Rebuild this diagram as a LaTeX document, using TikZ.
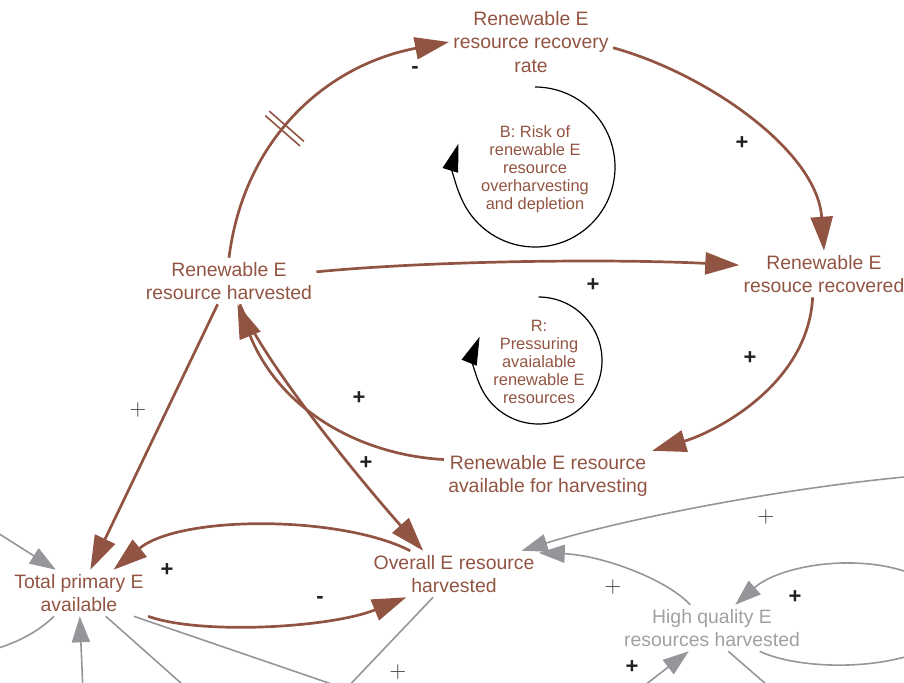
\documentclass[tikz,border=0pt]{standalone}
\usepackage{fontspec}
\setmainfont{Liberation Sans}
\usetikzlibrary{arrows.meta,decorations.markings}

\definecolor{brn}{RGB}{146,84,66}
\definecolor{gry}{RGB}{148,150,153}
\definecolor{grytxt}{RGB}{158,160,163}
\definecolor{sgn}{RGB}{35,31,32}

\begin{document}
\begin{tikzpicture}[x=0.5pt,y=0.5pt,
  var/.style={align=center,inner sep=2pt,text=brn,font=\fontsize{9.7}{11.75}\selectfont},
  greyvar/.style={var,text=grytxt},
  looplabel/.style={align=center,inner sep=0pt,text=brn,font=\fontsize{8.2}{9}\selectfont},
  link/.style={draw=brn,line width=1.35pt,-{Triangle[length=17pt,width=11pt]}},
  greylink/.style={draw=gry,line width=0.8pt,-{Triangle[length=13pt,width=9pt]}},
  greyline/.style={draw=gry,line width=0.8pt},
  loopline/.style={draw=black,line width=0.6pt,-{Triangle[length=14pt,width=8pt]}},
  possign/.style={text=sgn,inner sep=0pt,font=\fontsize{11}{11}\selectfont\bfseries},
  thinsign/.style={text=black!75,inner sep=0pt,font=\fontsize{10.5}{10.5}\selectfont},
  delaymark/.style={postaction={decorate},decoration={markings,mark=at position #1 with
    {\draw[brn,line width=0.8pt,-] (-3,-23) -- (-3,23) (3,-23) -- (3,23);}}}]

\useasboundingbox (0,0) rectangle (904,-682);
\clip (0,0) rectangle (904,-682);

\node[var] (rate) at (531,-42) {Renewable E\\resource recovery\\rate};
\node[var] (harv) at (229,-281) {Renewable E\\resource harvested};
\node[var] (recov) at (824,-274) {Renewable E\\resouce recovered};
\node[var] (avail) at (548,-476) {Renewable E resource\\available for harvesting};
\node[var] (total) at (79,-593) {Total primary E\\available};
\node[var] (overall) at (454,-574) {Overall E resource\\harvested};
\node[greyvar] (hq) at (712,-628) {High quality E\\resources harvested};

\node[looplabel] (bname) at (535,-169) {B: Risk of\\renewable E\\resource\\overharvesting\\and depletion};
\node[looplabel] (rname) at (539,-362) {R:\\Pressuring\\avaialable\\renewable E\\resources};

\draw[loopline] (535,-87) arc[start angle=90,end angle=-197,radius=80];
\draw[loopline] (538.5,-297) arc[start angle=90,end angle=-202,radius=63.5];

\coordinate (e1) at (915,-476);
\coordinate (e2) at (915,-575);
\coordinate (e3) at (915,-654);
\coordinate (e4) at (775,-692);
\coordinate (e5) at (636,-692);
\coordinate (e6) at (343,-692);
\coordinate (e7) at (355,-692);
\coordinate (e8) at (191,-692);
\coordinate (e9) at (83,-692);
\coordinate (e10) at (-10,-528);
\coordinate (e11) at (-8,-650);

\draw[greylink] (e1) .. controls (780,-488) and (620,-520) .. (overall.19);
\draw[greylink] (hq.133) .. controls (665,-578) and (600,-555) .. (overall.14);
\draw[greylink] (e2) .. controls (860,-552) and (780,-565) .. (hq.45);
\draw[greyline] (hq.-26) .. controls (790,-666) and (860,-672) .. (e3);
\draw[greyline] (hq.-55) -- (e4);
\draw[greylink] (e5) -- (hq.-135);
\draw[greyline] (overall.-132) -- (e6);
\draw[greyline] (total.-23) -- (e7);
\draw[greyline] (total.-41) -- (e8);
\draw[greylink] (e9) -- (total.-88);
\draw[greylink] (e10) -- (total.135);
\draw[greyline] (total.-137) .. controls (40,-630) and (20,-642) .. (e11);

\draw[link,delaymark=0.43] (harv.north) .. controls (244,-138) and (327,-65) .. (rate.west);
\draw[link] (rate.-4) .. controls (705,-73) and (817,-150) .. (recov.north);
\draw[link] (harv.6) .. controls (440,-260) and (620,-259) .. (recov.174);
\draw[link] (recov.-116) .. controls (808,-385) and (715,-432) .. (avail.north east);
\draw[link] (harv.-65) .. controls (262,-360) and (360,-480) .. (overall.143);
\draw[link] (avail.171) .. controls (360,-455) and (280,-410) .. (harv.-70);
\draw[link] (harv.-116) -- (total.64);
\draw[link] (overall.152) .. controls (340,-515) and (180,-515) .. (total.34);
\draw[link] (total.south east) .. controls (200,-635) and (330,-628) .. (overall.-154);

\node[possign] (s1) at (415,-70) {-};
\node[possign] (s2) at (742,-143) {+};
\node[possign] (s3) at (593,-285) {+};
\node[possign] (s4) at (750,-358) {+};
\node[possign] (s5) at (359,-398) {+};
\node[possign] (s6) at (366,-463) {+};
\node[possign] (s7) at (167,-570) {+};
\node[possign] (s8) at (320,-600) {-};
\node[possign] (s9) at (795,-597) {+};
\node[possign] (s10) at (632,-667) {+};
\node[thinsign] (t1) at (138,-410) {$+$};
\node[thinsign] (t2) at (766,-517) {$+$};
\node[thinsign] (t3) at (613,-587) {$+$};
\node[thinsign] (t4) at (398,-672) {$+$};

\end{tikzpicture}
\end{document}
